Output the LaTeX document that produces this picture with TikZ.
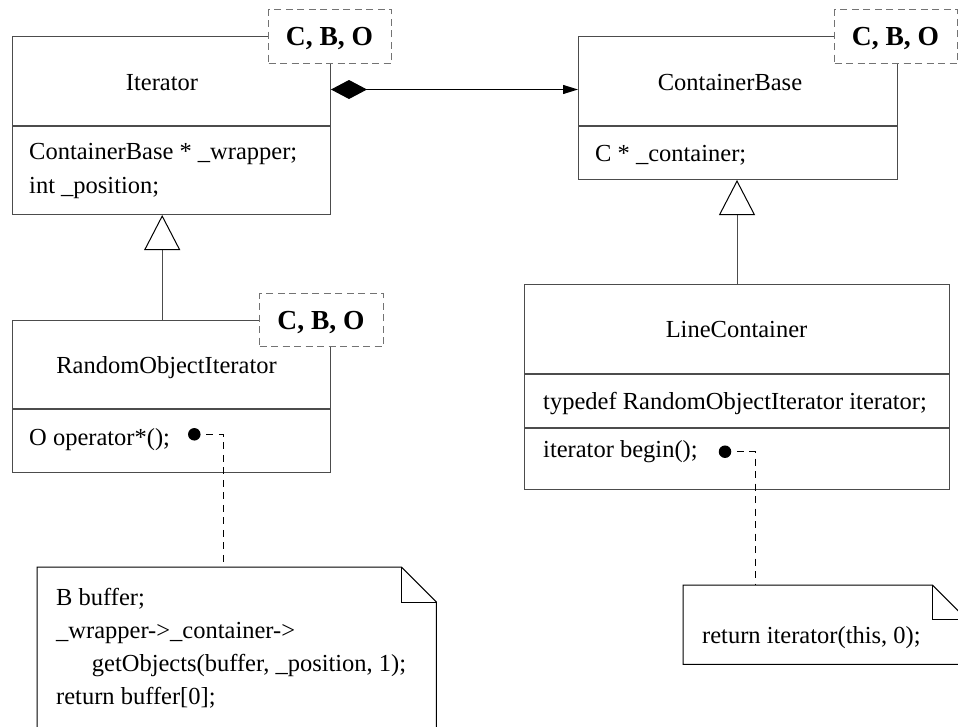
\documentclass[tikz,border=0pt]{standalone}
\usepackage{fontspec}
\setmainfont{Liberation Serif}
\usetikzlibrary{positioning,arrows.meta,calc}

\begin{document}
\begin{tikzpicture}[
    x=1pt, y=-1pt,
    every node/.style={inner sep=0pt, font=\fontsize{24.5}{34}\selectfont},
    part/.style={draw=black!70, line width=1pt, anchor=north west},
    title/.style={anchor=base},
    member/.style={anchor=base west},
    param/.style={draw=black!55, line width=1pt, dash pattern=on 7pt off 4.5pt, fill=white, anchor=north west},
    paramtext/.style={anchor=base, font=\fontsize{27.5}{34}\selectfont\bfseries},
    notebox/.style={anchor=north west},
    noteline/.style={line width=1pt},
    dot/.style={circle, fill=black, minimum size=12.5pt},
    link/.style={line width=1pt, dash pattern=on 7pt off 5.5pt, dash phase=7pt},
    compose/.style={line width=1pt, {Diamond[length=36pt, width=19pt]}-{Triangle[length=15pt, width=9pt]}},
    inherit/.style={draw=black!70, line width=1pt, -{Triangle[length=35pt, width=36pt, color=black, fill=white]}}
]
\useasboundingbox (0,0) rectangle (958,726);

% Iterator
\node[part, minimum width=318pt, minimum height=89pt] (itername) at (12,36) {};
\node[part, minimum width=318pt, minimum height=88pt, below=0pt of itername] (iterattr) {};
\node[title] (itertitle) at (162,90.7) {Iterator};
\node[member] (iterwrap) at (29,159.3) {ContainerBase * \_wrapper;};
\node[member] (iterpos) at (29,193.3) {int \_position;};

% ContainerBase
\node[part, minimum width=319pt, minimum height=89pt] (cbname) at (578,36) {};
\node[part, minimum width=319pt, minimum height=53pt, below=0pt of cbname] (cbattr) {};
\node[title] (cbtitle) at (730,90.7) {ContainerBase};
\node[member] (cbcont) at (595,161) {C * \_container;};

% RandomObjectIterator
\node[part, minimum width=318pt, minimum height=88pt] (roiname) at (12,320) {};
\node[part, minimum width=318pt, minimum height=63pt, below=0pt of roiname] (roiops) {};
\node[title] (roititle) at (166.5,373.3) {RandomObjectIterator};
\node[member] (roideref) at (29,445) {O operator*();};

% LineContainer
\node[part, minimum width=425pt, minimum height=89pt] (lcname) at (524,284) {};
\node[part, minimum width=425pt, minimum height=53pt, below=0pt of lcname] (lcattr) {};
\node[part, minimum width=425pt, minimum height=61pt, below=0pt of lcattr] (lcops) {};
\node[title] (lctitle) at (736.5,337.3) {LineContainer};
\node[member] (lctypedef) at (543,409) {typedef RandomObjectIterator iterator;};
\node[member] (lcbegin) at (543,457) {iterator begin();};

% relations
\draw[compose] ([yshift=-8.5pt]itername.east) -- ([yshift=-8.5pt]cbname.west);
\draw[inherit] ([xshift=-9.3pt]roiname.north) -- ([xshift=-9.3pt]iterattr.south);
\draw[inherit] (lcname.north) -- (lcname.north |- cbattr.south);

% template parameters
\node[param, minimum width=123pt, minimum height=54pt] (iterparam) at (268,9) {};
\node[paramtext] (iterparamtext) at (329.5,45.7) {C, B, O};
\node[param, minimum width=123pt, minimum height=54pt] (cbparam) at (834,9) {};
\node[paramtext] (cbparamtext) at (895.5,45.7) {C, B, O};
\node[param, minimum width=124pt, minimum height=53pt] (roiparam) at (259,293) {};
\node[paramtext] (roiparamtext) at (321,329) {C, B, O};

% note for operator*
\node[notebox, minimum width=399pt, minimum height=180pt] (opnote) at (37,567) {};
\draw[noteline] (opnote.south west) -- (opnote.north west) -- ([xshift=-35pt]opnote.north east)
    -- ([yshift=-35pt]opnote.north east) -- (opnote.south east);
\draw[noteline] ([xshift=-35pt]opnote.north east) |- ([yshift=-35pt]opnote.north east);
\node[member] (opline1) at (56,605) {B buffer;};
\node[member] (opline2) at (56,638.3) {\_wrapper->\_container->};
\node[member] (opline3) at (91.7,671) {getObjects(buffer, \_position, 1);};
\node[member] (opline4) at (56,704) {return buffer[0];};

\node[dot] (opdot) at (194.3,434.3) {};
\coordinate (opbend) at (223.3,434.3);
\draw[link] (opdot) -- (opbend) -- (opbend |- opnote.north);

% note for begin()
\node[notebox, minimum width=283pt, minimum height=79pt] (beginnote) at (683,585) {};
\draw[noteline] (beginnote.south west) -- (beginnote.north west) -- ([xshift=-34pt]beginnote.north east)
    -- ([yshift=-34pt]beginnote.north east) -- (beginnote.south east) -- cycle;
\draw[noteline] ([xshift=-34pt]beginnote.north east) |- ([yshift=-34pt]beginnote.north east);
\node[member] (beginline) at (702,643) {return iterator(this, 0);};

\node[dot] (begindot) at (725,451.7) {};
\coordinate (beginbend) at (755,451.7);
\draw[link] (begindot) -- (beginbend) -- (beginbend |- beginnote.north);

\end{tikzpicture}
\end{document}
